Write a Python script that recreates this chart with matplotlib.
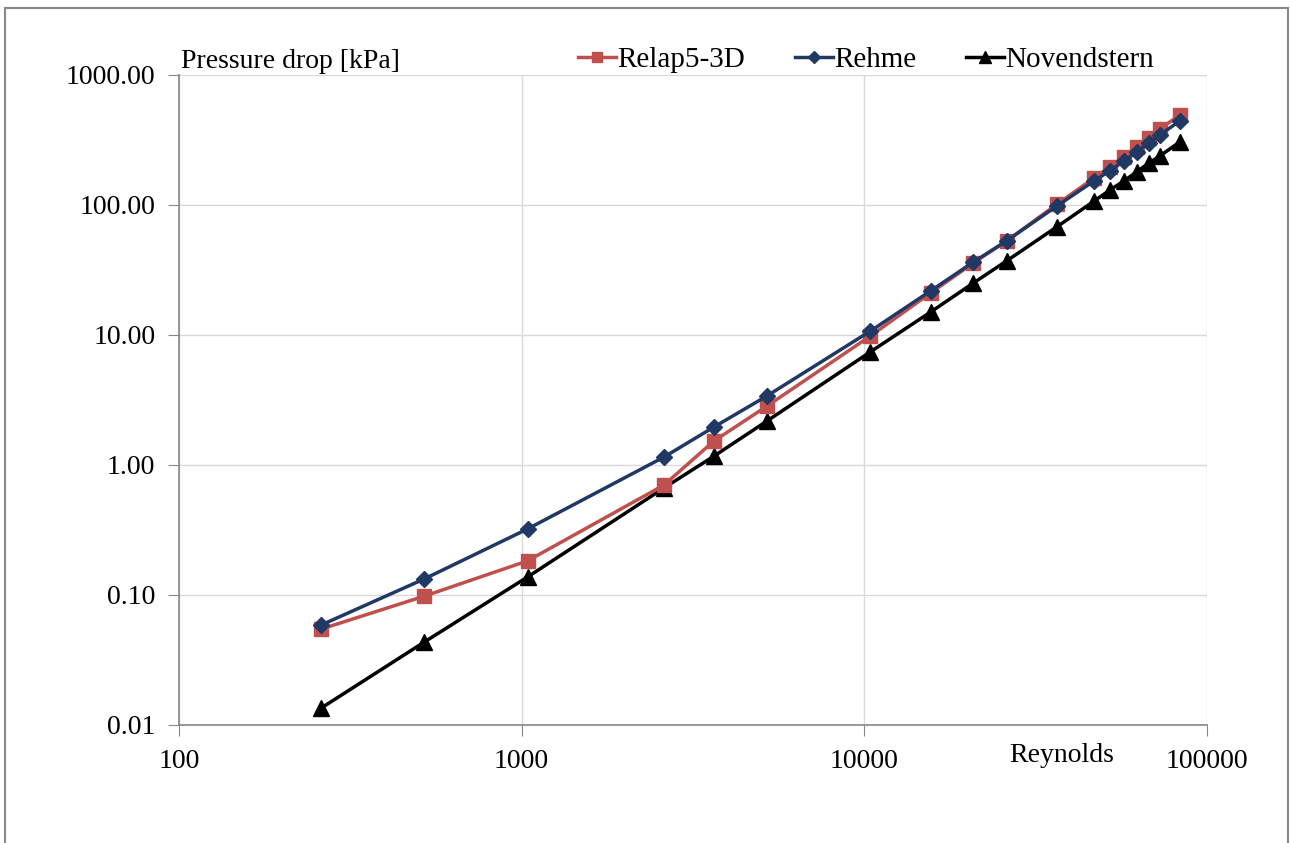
import matplotlib
matplotlib.use("Agg")
import matplotlib.pyplot as plt
from matplotlib.patches import Rectangle
from matplotlib.ticker import FixedLocator, FixedFormatter, NullLocator

reynolds = [260, 520, 1040, 2600, 3640, 5200, 10400, 15600, 20800, 26000,
            36400, 46800, 52000, 57200, 62400, 67600, 72800, 83200]
relap = [0.0547, 0.098, 0.183, 0.70, 1.53, 2.84, 9.8, 21.0, 35.8, 52.9,
         101, 161, 196, 234, 279, 327, 384, 492]
rehme = [0.0588, 0.133, 0.322, 1.15, 1.96, 3.40, 10.7, 21.8, 36.4, 52.9,
         98, 153, 183, 218, 256, 300, 345, 443]
novendstern = [0.0135, 0.0435, 0.1375, 0.665, 1.17, 2.18, 7.40, 15.0, 25.1, 37.1,
               67.7, 107, 130, 153, 180, 210, 238, 305]

x_ticks = [100, 1000, 10000, 100000]
x_labels = ["100", "1000", "10000", "100000"]
y_ticks = [0.01, 0.1, 1, 10, 100, 1000]
y_labels = ["0.01", "0.10", "1.00", "10.00", "100.00", "1000.00"]

plt.rcParams['font.family'] = ['Liberation Serif', 'DejaVu Serif']
W, H = 1290, 843
fig = plt.figure(figsize=(W / 100, H / 100), dpi=100)
ax = fig.add_axes([179 / W, 1 - 725 / H, (1207 - 179) / W, (725 - 75) / H])

# outer frame
fig.patches.append(Rectangle((5 / W, -0.05), (1288 - 5) / W, 1.05 - 8 / H,
                             transform=fig.transFigure, fill=False,
                             edgecolor='#888888', linewidth=1.5))

ax.plot(reynolds, relap, color='#C0504D', lw=2.5, marker='s', ms=10,
        label='Relap5-3D', zorder=3)
ax.plot(reynolds, rehme, color='#1F3864', lw=2.5, marker='D', ms=8,
        label='Rehme', zorder=4)
ax.plot(reynolds, novendstern, color='black', lw=2.5, marker='^', ms=11,
        label='Novendstern', zorder=2)

ax.set_xscale('log')
ax.set_yscale('log')
ax.set_xlim(100, 100000)
ax.set_ylim(0.01, 1000)
ax.xaxis.set_major_locator(FixedLocator(x_ticks))
ax.xaxis.set_major_formatter(FixedFormatter(x_labels))
ax.yaxis.set_major_locator(FixedLocator(y_ticks))
ax.yaxis.set_major_formatter(FixedFormatter(y_labels))
ax.xaxis.set_minor_locator(NullLocator())
ax.yaxis.set_minor_locator(NullLocator())

ax.grid(True, color='#D9D9D9', lw=1)
ax.set_axisbelow(True)
for s in ['top', 'right']:
    ax.spines[s].set_visible(False)
for s in ['left', 'bottom']:
    ax.spines[s].set_color('#868686')
    ax.spines[s].set_linewidth(1.2)
ax.tick_params(axis='both', which='major', length=8, color='#868686',
               labelsize=20, pad=9)
ax.tick_params(axis='x', pad=9)

fig.text(181 / W, 1 - 68 / H, 'Pressure drop [kPa]', fontsize=20,
         ha='left', va='baseline')
fig.text(1062 / W, 1 - 762 / H, 'Reynolds', fontsize=20,
         ha='center', va='baseline')

leg = fig.legend(loc='center', bbox_to_anchor=(866 / W, 1 - 60 / H), ncol=3,
                 frameon=False, fontsize=21, handlelength=1.3,
                 handletextpad=0.05, columnspacing=1.7, markerscale=0.75)

fig.savefig('out.png', dpi=100)
